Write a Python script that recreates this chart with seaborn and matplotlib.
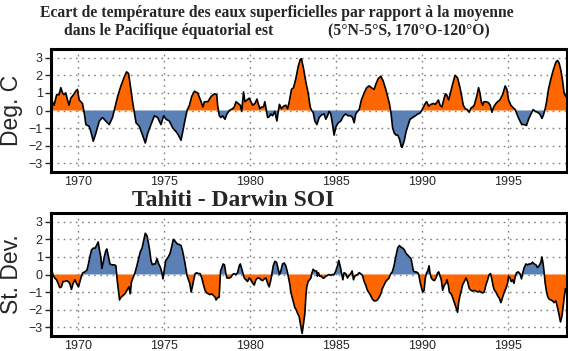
import numpy as np
import pandas as pd
import matplotlib
matplotlib.use("Agg")
import matplotlib.pyplot as plt
import seaborn as sns

# ---- Data: SST anomaly (deg C), eastern equatorial Pacific ----
sst_year = [
    1968.40, 1968.50, 1968.60, 1968.75, 1968.89, 1968.99, 1969.09, 1969.18, 1969.28, 1969.38,
    1969.47, 1969.57, 1969.73, 1969.86, 1969.96, 1970.06, 1970.16, 1970.25, 1970.35, 1970.45,
    1970.64, 1970.74, 1970.88, 1971.03, 1971.23, 1971.42, 1971.61, 1971.81, 1972.00, 1972.10,
    1972.30, 1972.49, 1972.68, 1972.82, 1972.94, 1973.07, 1973.17, 1973.27, 1973.37, 1973.56,
    1973.75, 1973.91, 1974.05, 1974.24, 1974.44, 1974.63, 1974.82, 1974.98, 1975.12, 1975.31,
    1975.51, 1975.70, 1975.84, 1975.99, 1976.19, 1976.34, 1976.48, 1976.61, 1976.77, 1976.96,
    1977.16, 1977.26, 1977.35, 1977.55, 1977.74, 1977.94, 1978.07,
    1978.12, 1978.22, 1978.31, 1978.41, 1978.55, 1978.66, 1978.80, 1978.90, 1978.99, 1979.09,
    1979.19, 1979.32, 1979.44, 1979.52, 1979.63, 1979.71, 1979.83, 1979.96, 1980.06, 1980.16,
    1980.29, 1980.41, 1980.48, 1980.58, 1980.68, 1980.79, 1980.87, 1980.95, 1981.03, 1981.12,
    1981.22, 1981.32, 1981.45, 1981.57, 1981.65, 1981.72, 1981.84, 1981.96, 1982.09, 1982.19,
    1982.29, 1982.42, 1982.54, 1982.67, 1982.81, 1982.93, 1983.00, 1983.12, 1983.26, 1983.39,
    1983.51, 1983.59, 1983.68, 1983.78, 1983.90, 1984.03, 1984.17, 1984.32, 1984.42, 1984.52,
    1984.61, 1984.71, 1984.81, 1984.90, 1985.00, 1985.14, 1985.29, 1985.45, 1985.58, 1985.72,
    1985.87, 1985.97, 1986.07, 1986.16, 1986.26, 1986.36, 1986.49, 1986.65, 1986.80, 1986.94,
    1987.07, 1987.23, 1987.33, 1987.46, 1987.62, 1987.75, 1987.91, 1988.04,
    1988.12, 1988.22, 1988.31, 1988.41, 1988.51, 1988.60, 1988.70, 1988.80, 1988.86, 1988.99,
    1989.09, 1989.19, 1989.32, 1989.48, 1989.63, 1989.77, 1989.90, 1990.00, 1990.10, 1990.21,
    1990.29, 1990.41, 1990.54, 1990.68, 1990.79, 1990.87, 1990.97, 1991.07, 1991.18, 1991.28,
    1991.38, 1991.45, 1991.57, 1991.67, 1991.80, 1991.94, 1992.09, 1992.23, 1992.35, 1992.42,
    1992.54, 1992.66, 1992.77, 1992.87, 1992.97, 1993.06, 1993.20, 1993.31, 1993.39, 1993.47,
    1993.55, 1993.62, 1993.74, 1993.88, 1993.99, 1994.09, 1994.19, 1994.32, 1994.42, 1994.55,
    1994.71, 1994.86, 1994.96, 1995.06, 1995.19, 1995.33, 1995.45, 1995.58, 1995.72, 1995.83,
    1995.97, 1996.10, 1996.22, 1996.36, 1996.49, 1996.61, 1996.74, 1996.88, 1997.00, 1997.07,
    1997.19, 1997.27, 1997.38, 1997.52, 1997.66, 1997.81, 1997.91, 1998.00, 1998.10, 1998.20,
    1998.29, 1998.39, 1998.45,
]
sst_anom = [
    0.5, 0.5, 0.3, 0.9, 0.9, 1.3, 1.0, 0.9, 1.0, 0.6,
    0.3, 0.7, 0.9, 1.1, 1.2, 0.6, 0.5, 0.4, -0.1, -0.8,
    -0.9, -1.2, -1.75, -1.3, -0.6, -0.4, -0.6, -0.8, -0.4, 0.0,
    0.8, 1.4, 1.9, 2.2, 2.1, 1.2, 0.5, -0.1, -0.7, -0.9,
    -1.4, -1.85, -1.3, -0.8, -0.3, -0.4, -0.8, -0.3, -0.5, -0.6,
    -1.0, -1.2, -1.4, -1.7, -0.7, 0.0, 0.3, 0.8, 1.1, 1.0,
    0.5, 0.2, 0.5, 0.5, 0.8, 0.95, 0.9,
    0.3, -0.3, -0.4, -0.3, -0.5, -0.2, 0.0, 0.05, 0.1, 0.2,
    0.5, 0.4, 0.3, -0.05, 1.05, 0.5, 0.6, 0.7, 0.5, 0.3,
    0.4, 0.65, 0.4, 0.1, 0.2, 0.2, 0.5, 0.05, -0.4, -0.35,
    -0.2, -0.3, -0.05, -0.6, -0.05, 0.35, 0.1, 0.25, 0.3, 0.1,
    0.5, 1.2, 1.3, 1.8, 2.5, 2.9, 2.95, 2.4, 1.6, 1.0,
    0.2, 0.0, -0.1, -0.6, -0.8, -0.4, -0.25, -0.2, -0.5, -0.3,
    -0.05, -0.2, -0.8, -1.4, -0.95, -0.7, -0.6, -0.3, -0.2, -0.3,
    -0.3, -0.4, -0.7, -0.2, -0.05, 0.05, 0.6, 1.0, 1.3, 1.4,
    1.3, 1.2, 1.5, 1.8, 1.95, 1.7, 1.2, 0.7,
    0.4, -0.2, -1.0, -1.3, -1.4, -1.4, -1.6, -2.0, -2.1, -1.7,
    -1.2, -0.9, -0.5, -0.4, -0.3, -0.2, -0.15, 0.0, 0.2, 0.4,
    0.5, 0.25, 0.35, 0.4, 0.35, 0.45, 0.6, 0.3, 0.2, 0.6,
    0.95, 0.9, 0.6, 1.0, 1.5, 2.0, 1.85, 1.3, 0.7, 0.3,
    0.1, 0.05, -0.1, 0.15, 0.2, 0.3, 0.8, 1.3, 1.0, 0.5,
    0.3, 0.5, 0.5, 0.45, 0.3, -0.1, 0.2, 0.4, 0.5, 0.6,
    0.9, 1.4, 1.2, 0.6, 0.3, 0.15, 0.05, -0.3, -0.6, -0.8,
    -0.8, -0.85, -0.5, -0.2, 0.05, -0.05, -0.1, -0.2, -0.45, -0.3,
    0.1, 0.5, 1.2, 1.8, 2.3, 2.75, 2.85, 2.7, 2.3, 1.7,
    1.0, 0.8, 0.8,
]

# ---- Data: Tahiti - Darwin SOI (standard deviations) ----
soi_year = [
    1968.40, 1968.46, 1968.54, 1968.64, 1968.74, 1968.83, 1968.93, 1969.03, 1969.12, 1969.22,
    1969.32, 1969.42, 1969.51, 1969.61, 1969.71, 1969.81, 1969.90, 1970.02, 1970.12, 1970.19,
    1970.27, 1970.39, 1970.51, 1970.60, 1970.68, 1970.78, 1970.88, 1970.99, 1971.09, 1971.17,
    1971.25, 1971.32, 1971.38, 1971.44, 1971.52, 1971.61, 1971.67, 1971.75, 1971.85, 1971.96,
    1972.10, 1972.20, 1972.26, 1972.33, 1972.41, 1972.49, 1972.61, 1972.72, 1972.84, 1972.96,
    1973.03, 1973.11, 1973.23, 1973.31, 1973.42, 1973.52, 1973.62, 1973.72, 1973.81, 1973.91,
    1974.01, 1974.09, 1974.16, 1974.24, 1974.32, 1974.40, 1974.49, 1974.59, 1974.69, 1974.79,
    1974.88, 1974.94, 1975.02, 1975.10, 1975.18, 1975.25, 1975.35, 1975.45, 1975.54, 1975.64,
    1975.76, 1975.89, 1975.99, 1976.09, 1976.19, 1976.28, 1976.34, 1976.42, 1976.50, 1976.58,
    1976.65, 1976.73, 1976.81, 1976.91, 1977.00, 1977.10, 1977.20, 1977.30, 1977.39, 1977.49,
    1977.59, 1977.68, 1977.78, 1977.88, 1977.98, 1978.03, 1978.13, 1978.21, 1978.29, 1978.37,
    1978.44, 1978.52,
    1978.60, 1978.66, 1978.80, 1978.90, 1978.99, 1979.09, 1979.19, 1979.28, 1979.38, 1979.44,
    1979.53, 1979.61, 1979.67, 1979.77, 1979.86, 1979.96, 1980.06, 1980.16, 1980.25, 1980.35,
    1980.45, 1980.54, 1980.64, 1980.74, 1980.83, 1980.93, 1981.03, 1981.12, 1981.22, 1981.28,
    1981.36, 1981.45, 1981.55, 1981.65, 1981.72, 1981.80, 1981.90, 1982.00, 1982.09, 1982.19,
    1982.25, 1982.33, 1982.38, 1982.46, 1982.54, 1982.62, 1982.69, 1982.77, 1982.87, 1982.97,
    1983.04, 1983.12, 1983.20, 1983.26, 1983.31, 1983.39, 1983.47, 1983.55, 1983.60, 1983.68,
    1983.78, 1983.88, 1983.93, 1983.99, 1984.07, 1984.17, 1984.24, 1984.32, 1984.42, 1984.52,
    1984.61, 1984.71, 1984.81, 1984.90, 1985.00, 1985.10, 1985.17, 1985.25, 1985.33, 1985.41,
    1985.48, 1985.58, 1985.68, 1985.78, 1985.87, 1985.95, 1986.03, 1986.10, 1986.18, 1986.26,
    1986.36, 1986.45, 1986.55, 1986.65, 1986.74, 1986.84, 1986.94, 1987.03, 1987.13, 1987.23,
    1987.33, 1987.42, 1987.52, 1987.62, 1987.71, 1987.81, 1987.91, 1988.00, 1988.10, 1988.20,
    1988.29, 1988.39,
    1988.41, 1988.51, 1988.60, 1988.70, 1988.80, 1988.90, 1988.99, 1989.09, 1989.19, 1989.28,
    1989.38, 1989.44, 1989.52, 1989.59, 1989.67, 1989.77, 1989.83, 1989.90, 1990.00, 1990.06,
    1990.14, 1990.21, 1990.29, 1990.35, 1990.43, 1990.48, 1990.56, 1990.64, 1990.74, 1990.83,
    1990.93, 1990.99, 1991.07, 1991.14, 1991.22, 1991.32, 1991.41, 1991.47, 1991.55, 1991.61,
    1991.71, 1991.80, 1991.90, 1992.00, 1992.09, 1992.15, 1992.23, 1992.31, 1992.38, 1992.48,
    1992.58, 1992.67, 1992.77, 1992.87, 1992.97, 1993.06, 1993.16, 1993.26, 1993.35, 1993.45,
    1993.55, 1993.64, 1993.74, 1993.84, 1993.93, 1994.01, 1994.09, 1994.17, 1994.24, 1994.32,
    1994.42, 1994.52, 1994.61, 1994.71, 1994.81, 1994.90, 1995.00, 1995.06, 1995.14, 1995.21,
    1995.29, 1995.37, 1995.45, 1995.52, 1995.62, 1995.72, 1995.81, 1995.87, 1995.97, 1996.07,
    1996.16, 1996.26, 1996.36, 1996.45, 1996.55, 1996.65, 1996.74, 1996.84, 1996.94, 1997.00,
    1997.07, 1997.13, 1997.19, 1997.27, 1997.35, 1997.42, 1997.52, 1997.62, 1997.71, 1997.81,
    1997.91, 1998.00, 1998.08, 1998.16, 1998.24, 1998.31, 1998.37, 1998.45,
]
soi_index = [
    0.7, 0.3, -0.05, -0.2, -0.3, -0.5, -0.75, -0.7, -0.4, -0.4,
    -0.35, -0.4, -0.5, -0.85, -0.5, -0.3, -0.5, -0.7, -0.35, -0.1,
    0.1, 0.15, 0.25, 0.6, 1.0, 1.4, 1.5, 1.5, 1.7, 1.85,
    1.35, 1.0, 0.35, 0.6, 1.0, 1.35, 1.45, 1.1, 0.6, 0.55,
    0.55, 0.5, -0.2, -0.8, -1.45, -1.3, -1.2, -1.1, -0.9, -0.7,
    -1.1, -0.4, -0.1, 0.1, 0.5, 0.9, 1.3, 1.5, 1.9, 2.35,
    2.2, 1.8, 1.4, 0.8, 0.55, 0.6, 0.6, 0.9, 0.6, 0.4,
    0.1, -0.25, 0.3, 0.8, 0.9, 1.0, 1.2, 1.6, 2.0, 1.9,
    1.75, 1.7, 1.65, 1.3, 0.8, 0.3, -0.05, -0.3, -0.5, -1.0,
    -0.7, -0.3, 0.05, 0.1, 0.05, 0.05, -0.2, -0.6, -0.9, -1.05,
    -1.1, -1.15, -1.1, -1.2, -1.3, -1.45, -1.3, -1.3, 0.2, 0.4,
    0.6, 0.55,
    0.05, -0.2, -0.2, -0.15, 0.0, 0.05, 0.0, 0.1, 0.5, 0.6,
    0.3, 0.0, -0.2, -0.3, -0.4, -0.2, -0.3, -0.5, -0.6, -0.3,
    -0.2, -0.2, -0.3, -0.35, -0.25, -0.2, -0.5, -0.7, -0.3, 0.05,
    0.5, 0.75, 0.7, 0.3, 0.0, 0.2, 0.6, 0.65, 0.5, 0.1,
    -0.2, -0.6, -1.0, -1.3, -1.6, -1.9, -2.0, -2.2, -2.4, -3.0,
    -3.35, -2.8, -2.2, -1.2, -0.7, -0.4, -0.3, -0.2, 0.05, 0.3,
    0.2, 0.2, -0.1, 0.1, -0.1, -0.1, -0.2, -0.2, -0.1, -0.05,
    0.0, -0.05, 0.0, 0.0, 0.2, 0.5, 0.8, 0.5, 0.1, -0.3,
    0.1, 0.05, -0.2, -0.05, 0.05, 0.2, -0.3, -0.1, -0.05, 0.0,
    0.1, 0.05, -0.05, -0.4, -0.6, -0.9, -1.05, -1.2, -1.4, -1.5,
    -1.5, -1.45, -1.3, -1.1, -0.8, -0.6, -0.4, -0.3, -0.2, 0.05,
    0.15, 0.5,
    0.6, 1.1, 1.5, 1.65, 1.55, 1.5, 1.4, 1.2, 1.1, 1.0,
    0.9, 0.6, 0.2, 0.15, 0.15, 0.1, 0.0, -0.4, -0.8, -1.0,
    -0.9, -0.2, 0.1, 0.2, 0.5, 0.1, -0.2, -0.3, -0.35, -0.2,
    0.1, 0.15, -0.1, -0.3, -0.9, -0.6, -0.5, -0.3, -0.6, -1.0,
    -1.1, -1.3, -1.6, -1.9, -2.15, -1.6, -1.2, -0.9, -0.6, -0.4,
    -0.2, -0.4, -0.8, -0.9, -0.95, -0.9, -0.95, -1.0, -0.95, -1.0,
    -1.05, -1.0, -0.6, -0.3, 0.0, 0.05, -0.3, -0.7, -0.9, -1.0,
    -1.2, -1.35, -1.6, -1.3, -1.0, -0.8, -0.5, -0.1, -0.2, -0.4,
    -0.3, -0.5, -0.1, 0.1, 0.15, 0.05, -0.25, 0.05, 0.4, 0.6,
    0.55, 0.6, 0.6, 0.7, 0.6, 0.55, 0.4, 0.5, 0.7, 1.0,
    0.6, 0.1, -0.5, -1.0, -1.3, -1.4, -1.45, -1.5, -1.6, -1.5,
    -1.9, -2.3, -2.7, -2.4, -1.8, -1.2, -0.8, -0.9,
]

x_ticks = [1970, 1975, 1980, 1985, 1990, 1995]
y_ticks = [-3, -2, -1, 0, 1, 2, 3]

title_line1 = "Ecart de température des eaux superficielles par rapport à la moyenne"
title_line2a = "dans le Pacifique équatorial est"
title_line2b = "(5°N-5°S, 170°O-120°O)"
soi_title = "Tahiti - Darwin SOI"

ORANGE = "#FF6600"
BLUE = "#5A80B5"

sns.set_style("white")
plt.rcParams["font.family"] = ["Liberation Sans", "DejaVu Sans"]

fig = plt.figure(figsize=(5.68, 3.51), dpi=100)
ax1 = fig.add_axes([51 / 568, 1 - 172 / 351, (566.5 - 51) / 568, 123 / 351])
ax2 = fig.add_axes([51 / 568, 1 - 336 / 351, (566.5 - 51) / 568, 123 / 351])

sst = pd.DataFrame({"year": sst_year, "value": sst_anom})
soi = pd.DataFrame({"year": soi_year, "value": soi_index})


def draw(ax, df, pos_color, neg_color, ylabel):
    x = df["year"].to_numpy()
    y = df["value"].to_numpy()
    ax.fill_between(x, 0, y, where=y >= 0, interpolate=True, color=pos_color, lw=0, zorder=2)
    ax.fill_between(x, 0, y, where=y <= 0, interpolate=True, color=neg_color, lw=0, zorder=2)
    sns.lineplot(data=df, x="year", y="value", ax=ax, color="black", lw=1.2, zorder=3)
    ax.set_xlim(1968.42, 1998.43)
    ax.set_ylim(-3.5, 3.5)
    ax.set_xticks(x_ticks)
    ax.set_yticks(y_ticks)
    ax.set_yticklabels([f"{t}" if t >= 0 else f"\u2212{-t}" for t in y_ticks])
    ax.grid(True, color="#808080", linestyle=(0, (1.2, 3.2)), linewidth=1.0, zorder=1)
    ax.set_axisbelow(True)
    for s in ax.spines.values():
        s.set_linewidth(2.2)
        s.set_color("black")
    ax.tick_params(axis="x", length=0, pad=3, labelsize=9)
    ax.tick_params(axis="y", length=4, width=1, pad=2, labelsize=9, left=True)
    ax.set_xlabel("")
    ax.set_ylabel(ylabel, fontsize=16.5, labelpad=4)


draw(ax1, sst, ORANGE, BLUE, "Deg. C")
draw(ax2, soi, BLUE, ORANGE, "St. Dev.")

serif = ["Liberation Serif", "DejaVu Serif"]
fig.text(277 / 568, 1 - 13 / 351, title_line1, ha="center", va="center",
         family=serif, fontweight="bold", fontsize=11.3)
fig.text(64 / 568, 1 - 31 / 351, title_line2a, ha="left", va="center",
         family=serif, fontweight="bold", fontsize=11.3)
fig.text(328 / 568, 1 - 31 / 351, title_line2b, ha="left", va="center",
         family=serif, fontweight="bold", fontsize=11.3)
fig.text(233 / 568, 1 - 200 / 351, soi_title, ha="center", va="center",
         family=serif, fontweight="bold", fontsize=17)

fig.savefig("out.png", dpi=100)
